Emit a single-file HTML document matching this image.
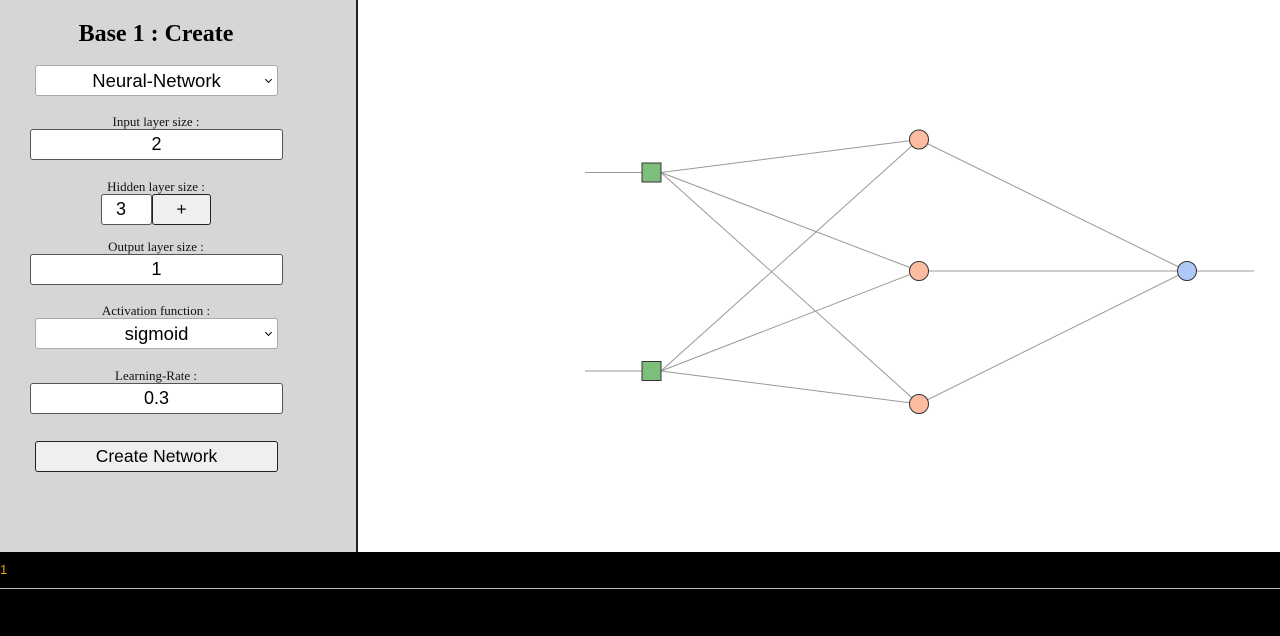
<!DOCTYPE html>
<html><head><meta charset="utf-8"><style>
html,body{margin:0;padding:0;width:1280px;height:636px;overflow:hidden;background:#fff;font-family:"Liberation Sans",sans-serif}
#panel{position:absolute;left:0;top:0;width:356px;height:552px;background:#d6d6d6;border-right:2px solid #222}
h1{position:absolute;left:0;width:312px;top:21px;margin:0;text-align:center;font:bold 24px "Liberation Serif",serif;color:#000}
.lbl{position:absolute;left:0;width:312px;text-align:center;font:13px "Liberation Serif",serif;color:#111}
.sel{position:absolute;left:35px;width:243px;height:31px;background:#fff;border:1px solid #aaa;border-radius:3px;box-sizing:border-box;text-align:center;font-size:18.5px;line-height:29px;color:#000}
.sel:after{content:"";position:absolute;right:6px;top:11px;width:4px;height:4px;border-right:1.5px solid #000;border-bottom:1.5px solid #000;transform:rotate(45deg)}
.inp{position:absolute;left:30px;width:253px;height:31px;background:#fff;border:1.5px solid #555;border-radius:3px;box-sizing:border-box;text-align:center;font-size:18px;line-height:28px;color:#000}
.btn{position:absolute;background:#efefef;border:1.5px solid #222;border-radius:3px;box-sizing:border-box;text-align:center;font-size:17.5px;color:#000}
#foot{position:absolute;left:0;top:552px;width:1280px;height:84px;background:#000}
</style></head><body>
<div id="panel">
<h1>Base 1 : Create</h1>
<div class="sel" style="top:65px">Neural-Network</div>
<div class="lbl" style="top:114px">Input layer size :</div>
<div class="inp" style="top:129px">2</div>
<div class="lbl" style="top:179px">Hidden layer size :</div>
<div class="inp" style="top:194px;left:101px;width:51px;text-align:left;padding-left:14px">3</div>
<div class="btn" style="top:194px;left:152px;width:59px;height:31px;line-height:28px">+</div>
<div class="lbl" style="top:239px">Output layer size :</div>
<div class="inp" style="top:254px">1</div>
<div class="lbl" style="top:303px">Activation function :</div>
<div class="sel" style="top:318px">sigmoid</div>
<div class="lbl" style="top:368px">Learning-Rate :</div>
<div class="inp" style="top:383px">0.3</div>
<div class="btn" style="top:441px;left:35px;width:243px;height:31px;line-height:28px">Create Network</div>
</div>
<svg style="position:absolute;left:0;top:0" width="1280" height="552">
<g stroke="#999" stroke-width="1">
<line x1="585" y1="172.5" x2="642" y2="172.5"/>
<line x1="585" y1="371" x2="642" y2="371"/>
<line x1="661" y1="172.5" x2="919" y2="139.5"/>
<line x1="661" y1="172.5" x2="919" y2="271"/>
<line x1="661" y1="172.5" x2="919" y2="404"/>
<line x1="661" y1="371" x2="919" y2="139.5"/>
<line x1="661" y1="371" x2="919" y2="271"/>
<line x1="661" y1="371" x2="919" y2="404"/>
<line x1="919" y1="139.5" x2="1187" y2="271"/>
<line x1="919" y1="271" x2="1187" y2="271"/>
<line x1="919" y1="404" x2="1187" y2="271"/>
<line x1="1187" y1="271" x2="1254" y2="271"/>
</g>
<g stroke="#333" stroke-width="1">
<rect x="642" y="163" width="19" height="19" fill="#7dbe7c"/>
<rect x="642" y="361.5" width="19" height="19" fill="#7dbe7c"/>
<circle cx="919" cy="139.5" r="9.5" fill="#fdbba0"/>
<circle cx="919" cy="271" r="9.5" fill="#fdbba0"/>
<circle cx="919" cy="404" r="9.5" fill="#fdbba0"/>
<circle cx="1187" cy="271" r="9.5" fill="#b0c8f8"/>
</g>
</svg>
<div id="foot">
<div style="position:absolute;left:0;top:10px;color:#e8a000;font-size:13px">1</div>
<div style="position:absolute;left:0;top:36px;width:1280px;height:1px;background:#bbb"></div>
</div>
</body></html>
